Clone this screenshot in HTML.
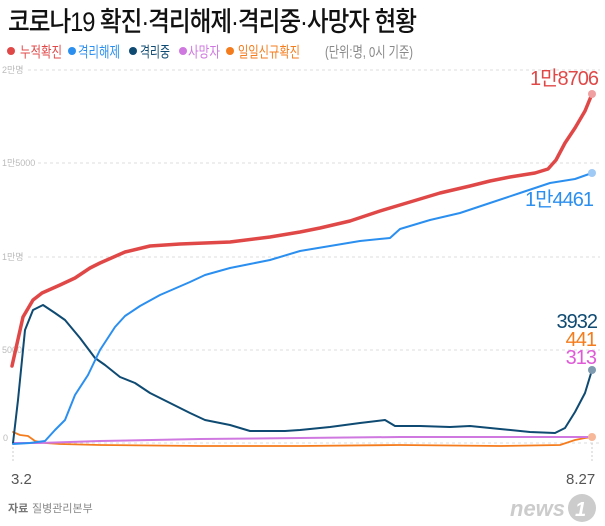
<!DOCTYPE html>
<html><head><meta charset="utf-8"><style>
body{margin:0;background:#fff;}
svg{display:block;font-family:"Liberation Sans","Noto Sans CJK KR",sans-serif;}
</style></head><body>
<svg width="605" height="526" viewBox="0 0 605 526" xmlns="http://www.w3.org/2000/svg">
<rect width="605" height="526" fill="#fff"/>
<text x="8" y="31" font-size="27" fill="#111" font-weight="500" letter-spacing="-1.2" textLength="408" lengthAdjust="spacingAndGlyphs">코로나19 확진·격리해제·격리중·사망자 현황</text>
<g font-size="15">
<circle cx="11" cy="51" r="4" fill="#e04848"/><text x="20" y="57" fill="#e04848" textLength="42" lengthAdjust="spacingAndGlyphs">누적확진</text>
<circle cx="72" cy="51" r="4" fill="#2b8ff0"/><text x="78" y="57" fill="#2b8ff0" textLength="42" lengthAdjust="spacingAndGlyphs">격리해제</text>
<circle cx="133" cy="51" r="4" fill="#0e4a72"/><text x="140" y="57" fill="#0e4a72" textLength="30" lengthAdjust="spacingAndGlyphs">격리중</text>
<circle cx="183" cy="51" r="4" fill="#cf78e0"/><text x="188" y="57" fill="#cf78e0" textLength="32" lengthAdjust="spacingAndGlyphs">사망자</text>
<circle cx="230" cy="51" r="4" fill="#f57c1c"/><text x="238" y="57" fill="#f57c1c" textLength="62" lengthAdjust="spacingAndGlyphs">일일신규확진</text>
<text x="325" y="57" fill="#888" textLength="88" lengthAdjust="spacingAndGlyphs">(단위:명, 0시 기준)</text>
</g>
<g stroke="#ddd" stroke-dasharray="3,3" stroke-width="1">
<line x1="28" y1="70" x2="600" y2="70"/><line x1="38" y1="163" x2="600" y2="163"/>
<line x1="28" y1="257" x2="600" y2="257"/><line x1="28" y1="350" x2="600" y2="350"/>
<line x1="14" y1="443" x2="600" y2="443"/>
</g>
<g font-size="9" fill="#bbb">
<text x="2" y="73">2만명</text><text x="2" y="166">1만5000</text><text x="2" y="260">1만명</text><text x="2" y="353">5000</text><text x="3" y="441">0</text>
</g>
<line x1="13" y1="443" x2="13" y2="462" stroke="#ccc" stroke-dasharray="2,2"/>
<line x1="592" y1="443" x2="592" y2="462" stroke="#ccc" stroke-dasharray="2,2"/>
<text x="11" y="484" font-size="15" fill="#555">3.2</text>
<text x="566" y="484" font-size="15" fill="#555">8.27</text>
<text x="8" y="512" font-size="11" fill="#777" font-weight="bold">자료</text><text x="32" y="512" font-size="11" fill="#888">질병관리본부</text>
<text x="510" y="516" font-size="22" fill="#ccc" font-style="italic" font-weight="bold">news</text>
<circle cx="582" cy="508" r="14" fill="#ccc"/><text x="575" y="516" font-size="20" fill="#fff" font-weight="bold" font-style="italic">1</text>
<g fill="none" stroke-linejoin="round" stroke-linecap="round">
<polyline stroke="#f57c1c" stroke-width="1.8" points="13,432 20,435 28,436 35,441 45,443 60,444 100,445 200,446 300,446 400,445 500,446 560,445 575,440 585,438 592,437"/>
<polyline stroke="#cf78e0" stroke-width="2" points="13,443 40,443 100,441 200,439 300,438 400,437 500,437 592,437"/>
<polyline stroke="#0e4a72" stroke-width="2" points="13,443 18,400 25,330 33,310 43,305 55,313 65,320 80,338 95,358 105,365 120,377 135,383 150,393 170,403 190,413 205,420 230,425 250,431 270,431 285,431 300,430 330,427 360,423 385,420 395,426 420,426 450,427 470,426 500,429 530,432 555,433 565,428 575,412 585,393 592,370"/>
<polyline stroke="#2b8ff0" stroke-width="2" points="13,444 30,443 45,441 55,430 65,420 75,395 88,375 100,350 115,327 125,316 140,306 160,295 190,282 205,275 230,268 250,264 270,260 300,251 330,246 360,241 390,238 400,229 430,220 460,213 490,203 520,193 550,183 575,179 592,173"/>
<polyline stroke="#e04848" stroke-width="3.5" points="12,366 23,317 33,300 42,293 60,285 75,278 90,268 100,263 125,252 150,246 180,244 230,242 270,237 300,232 320,228 350,221 380,211 410,202 440,193 470,186 490,181 510,177 535,173 548,169 556,160 565,143 575,128 585,111 592,94"/>
</g>
<circle cx="592" cy="94" r="4" fill="#f0a0a0"/>
<circle cx="592" cy="173" r="4" fill="#9fcaf5"/>
<circle cx="592" cy="370" r="4" fill="#7f9bb0"/>
<circle cx="592" cy="437" r="4" fill="#f7b89a"/>
<g text-anchor="end" font-size="20" letter-spacing="-1">
<text x="598" y="85" fill="#e04848">1만8706</text>
<text x="593" y="206" fill="#2b8ff0">1만4461</text>
<text x="597" y="328" fill="#0e4a72">3932</text>
<text x="596" y="346" fill="#f57c1c">441</text>
<text x="596" y="364" fill="#e05ad8">313</text>
</g>
</svg>
</body></html>
